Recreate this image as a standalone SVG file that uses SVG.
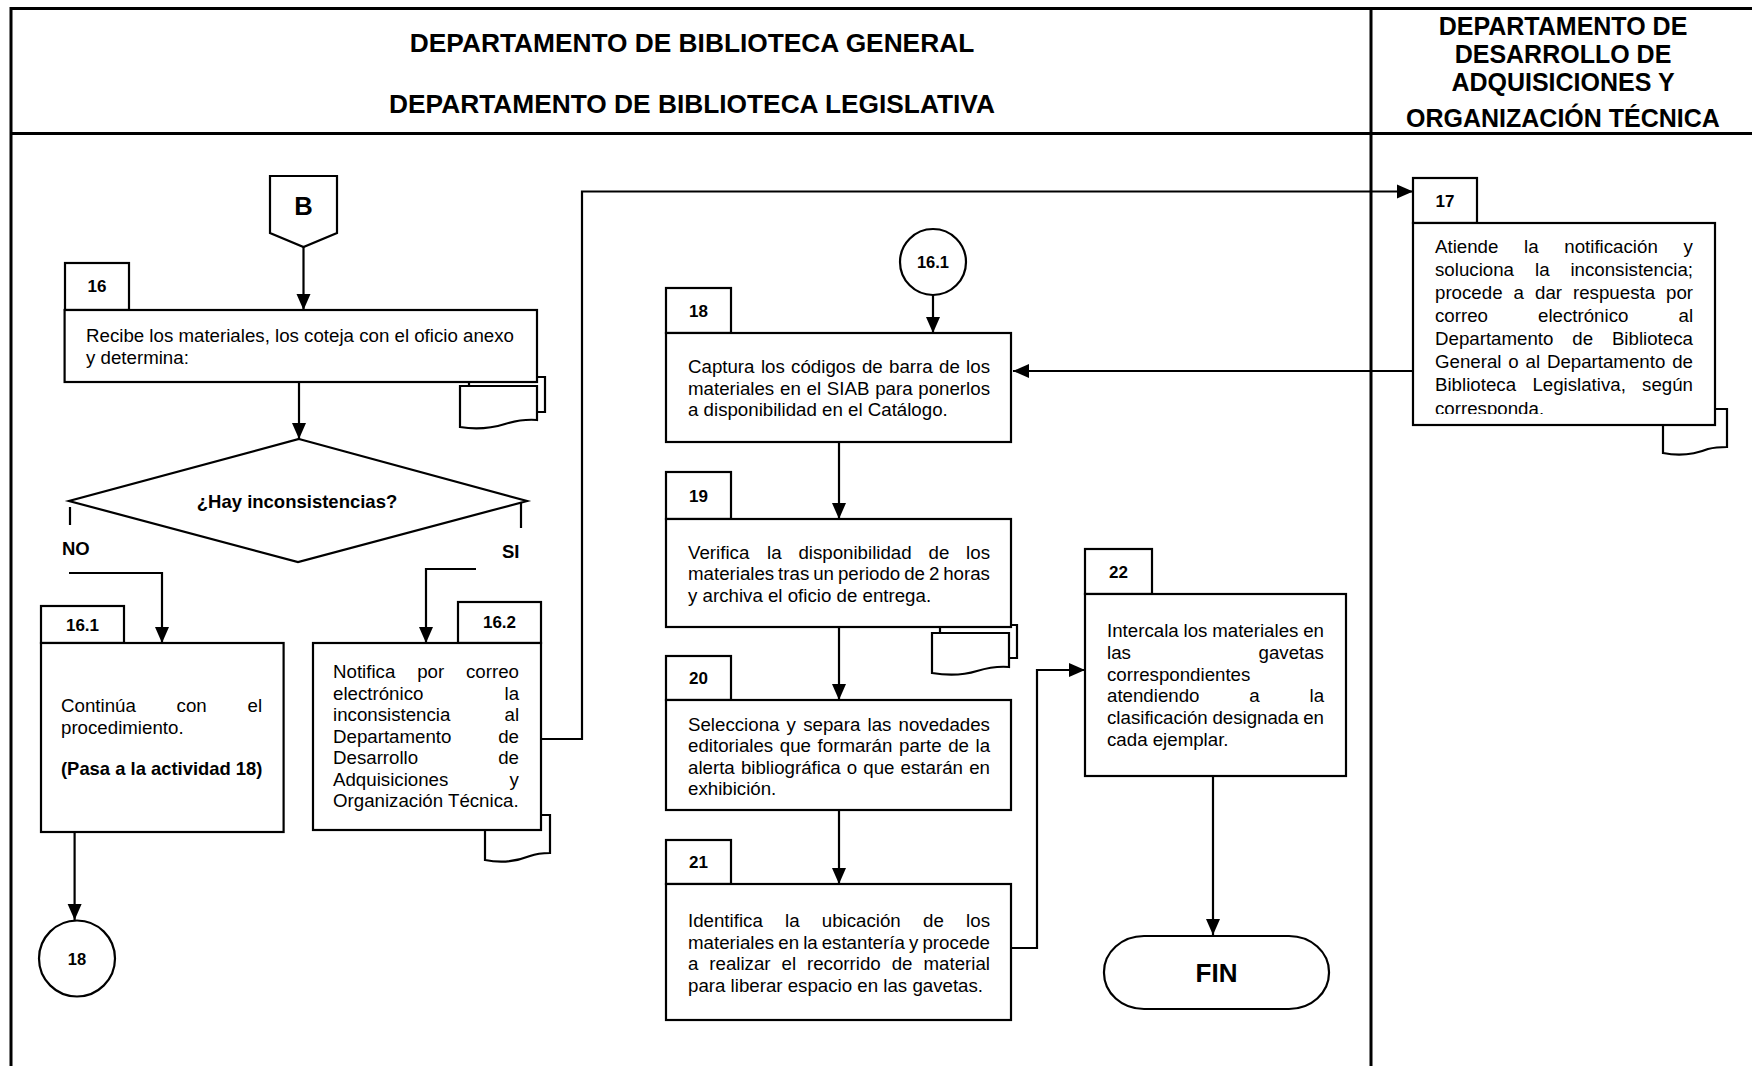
<svg xmlns="http://www.w3.org/2000/svg" width="1752" height="1066" viewBox="0 0 1752 1066">
<style>
.f{fill:#fff;stroke:#000;stroke-width:2.2}
.ln{fill:none;stroke:#000;stroke-width:2.2}
.fr{fill:none;stroke:#000;stroke-width:3}
.t{font-family:"Liberation Sans",Arial,sans-serif;font-size:18.7px;fill:#000}
.b{font-family:"Liberation Sans",Arial,sans-serif;font-weight:bold;fill:#000}
.n{font-size:17px}
.m{text-anchor:middle}
</style>
<defs>
<marker id="ah" markerUnits="userSpaceOnUse" markerWidth="16" markerHeight="16" viewBox="0 0 16 16" refX="16" refY="8" orient="auto"><path d="M0,1 L16,8 L0,15 z" fill="#000"/></marker>
<clipPath id="c17"><rect x="1413" y="223" width="302" height="191"/></clipPath>
</defs>
<rect width="1752" height="1066" fill="#fff"/>
<g id="frame">
<path class="fr" d="M11,8.5 H1752 M11,7 V1066 M11,133.5 H1752 M1371,7 V1066"/>
<text class="b m" x="692" y="52" font-size="26.3">DEPARTAMENTO DE BIBLIOTECA GENERAL</text>
<text class="b m" x="692" y="113" font-size="26.3">DEPARTAMENTO DE BIBLIOTECA LEGISLATIVA</text>
<text class="b m" x="1563" y="35" font-size="25">DEPARTAMENTO DE</text>
<text class="b m" x="1563" y="63" font-size="25">DESARROLLO DE</text>
<text class="b m" x="1563" y="91" font-size="25">ADQUISICIONES Y</text>
<text class="b m" x="1563" y="126.5" font-size="25">ORGANIZACIÓN TÉCNICA</text>
</g>
<g id="connectors">
<path class="ln" d="M303.5,247 V310" marker-end="url(#ah)"/>
<path class="ln" d="M299,382 V439" marker-end="url(#ah)"/>
<path class="ln" d="M70,507 V525"/>
<path class="ln" d="M69,573 H162 V643" marker-end="url(#ah)"/>
<path class="ln" d="M521,503 V528"/>
<path class="ln" d="M476,569 H426 V643" marker-end="url(#ah)"/>
<path class="ln" d="M74.6,832 V920" marker-end="url(#ah)"/>
<path class="ln" d="M541,739 H582 V191.5 H1413" marker-end="url(#ah)"/>
<path class="ln" d="M1413,371 H1013" marker-end="url(#ah)"/>
<path class="ln" d="M933,295 V333" marker-end="url(#ah)"/>
<path class="ln" d="M839,442 V519" marker-end="url(#ah)"/>
<path class="ln" d="M839,627 V700" marker-end="url(#ah)"/>
<path class="ln" d="M839,810 V884" marker-end="url(#ah)"/>
<path class="ln" d="M1011,948 H1037 V670 H1085" marker-end="url(#ah)"/>
<path class="ln" d="M1213,776 V935" marker-end="url(#ah)"/>
<text class="b" x="62" y="555" font-size="18.5">NO</text>
<text class="b" x="502" y="558" font-size="18.5">SI</text>
</g>
<g id="nB">
<path class="f" d="M270,176 H337 V233 L303.5,247 L270,233 Z"/>
<text class="b m" x="303.5" y="215" font-size="25.6">B</text>
</g>
<g id="n16">
<path class="f" d="M469,386 V377 H545 V412 H537"/>
<path class="f" d="M460,386 H537 V420 C525,419 515,421 505,424 C492,428 478,430 460,427 Z"/>
<rect class="f" x="65" y="263" width="64" height="47"/>
<text class="b n m" x="97" y="292">16</text>
<rect class="f" x="64.6" y="310" width="472.4" height="72"/>
<text class="t" x="86" y="342">Recibe los materiales, los coteja con el oficio anexo</text>
<text class="t" x="86" y="363.5">y determina:</text>
</g>
<g id="nDecision">
<path class="f" d="M299,439 L527,501 L298,562 L69,501 Z"/>
<text class="b m" x="297" y="508" font-size="18.5">¿Hay inconsistencias?</text>
</g>
<g id="n16_1">
<rect class="f" x="41" y="606" width="83" height="37"/>
<text class="b n m" x="82.5" y="630.5">16.1</text>
<rect class="f" x="41" y="643" width="242.6" height="189"/>
<text class="t" y="712"><tspan x="61">Continúa</tspan><tspan x="176.6">con</tspan><tspan x="247.5">el</tspan></text>
<text class="t" x="61" y="733.5">procedimiento.</text>
<text class="b" x="61" y="775" font-size="18.4">(Pasa a la actividad 18)</text>
</g>
<g id="c18">
<circle class="f" cx="77" cy="958.5" r="38"/>
<text class="b m" x="77" y="964.5" font-size="16.5">18</text>
</g>
<g id="n16_2">
<path class="f" d="M485,830 V860 C505,864 520,860 530,856 C538,853 544,853 550,853 V815 H535"/>
<rect class="f" x="458" y="602" width="83" height="41"/>
<text class="b n m" x="499.5" y="628">16.2</text>
<rect class="f" x="313" y="643" width="228" height="187"/>
<text class="t" y="678"><tspan x="333">Notifica</tspan><tspan x="417.2">por</tspan><tspan x="466">correo</tspan></text>
<text class="t" y="699.5"><tspan x="333">electrónico</tspan><tspan x="504.5">la</tspan></text>
<text class="t" y="721"><tspan x="333">inconsistencia</tspan><tspan x="504.5">al</tspan></text>
<text class="t" y="742.5"><tspan x="333">Departamento</tspan><tspan x="498.2">de</tspan></text>
<text class="t" y="764"><tspan x="333">Desarrollo</tspan><tspan x="498.2">de</tspan></text>
<text class="t" y="785.5"><tspan x="333">Adquisiciones</tspan><tspan x="509.6">y</tspan></text>
<text class="t" x="333" y="807">Organización Técnica.</text>
</g>
<g id="n17">
<path class="f" d="M1663,425 V453 C1683,457 1698,453 1708,449 C1716,447 1722,447 1727,447 V409 H1710"/>
<rect class="f" x="1413" y="178" width="64" height="45"/>
<text class="b n m" x="1445" y="206.5">17</text>
<rect class="f" x="1413" y="223" width="302" height="202"/>
<g clip-path="url(#c17)">
<text class="t" y="253"><tspan x="1435">Atiende</tspan><tspan x="1524.1">la</tspan><tspan x="1564.3">notificación</tspan><tspan x="1683.6">y</tspan></text>
<text class="t" y="276"><tspan x="1435">soluciona</tspan><tspan x="1535">la</tspan><tspan x="1570.4">inconsistencia;</tspan></text>
<text class="t" y="299"><tspan x="1435">procede</tspan><tspan x="1513.6">a</tspan><tspan x="1535">dar</tspan><tspan x="1573">respuesta</tspan><tspan x="1666">por</tspan></text>
<text class="t" y="322"><tspan x="1435">correo</tspan><tspan x="1538">electrónico</tspan><tspan x="1678.5">al</tspan></text>
<text class="t" y="345"><tspan x="1435">Departamento</tspan><tspan x="1572.3">de</tspan><tspan x="1611.9">Biblioteca</tspan></text>
<text class="t" y="368"><tspan x="1435">General</tspan><tspan x="1508.3">o</tspan><tspan x="1525.5">al</tspan><tspan x="1546.9">Departamento</tspan><tspan x="1672.2">de</tspan></text>
<text class="t" y="391"><tspan x="1435">Biblioteca</tspan><tspan x="1532.4">Legislativa,</tspan><tspan x="1642.1">según</tspan></text>
<text class="t" x="1435" y="415">corresponda.</text>
</g>
</g>
<g id="c16_1">
<circle class="f" cx="933" cy="262" r="33"/>
<text class="b m" x="933" y="268" font-size="16.5">16.1</text>
</g>
<g id="n18">
<rect class="f" x="666" y="288" width="65" height="45"/>
<text class="b n m" x="698.5" y="316.5">18</text>
<rect class="f" x="666" y="333" width="345" height="109"/>
<text class="t" y="373"><tspan x="688">Captura</tspan><tspan x="760.9">los</tspan><tspan x="791.1">códigos</tspan><tspan x="861.9">de</tspan><tspan x="889">barra</tspan><tspan x="939">de</tspan><tspan x="966.1">los</tspan></text>
<text class="t" y="394.5"><tspan x="688">materiales</tspan><tspan x="780">en</tspan><tspan x="806.5">el</tspan><tspan x="826.8">SIAB</tspan><tspan x="875.2">para</tspan><tspan x="918.3">ponerlos</tspan></text>
<text class="t" x="688" y="416">a disponibilidad en el Catálogo.</text>
</g>
<g id="n19">
<path class="f" d="M940,633 V625 H1017 V658 H1009"/>
<path class="f" d="M932,633 H1009 V667 C997,666 987,668 977,671 C964,675 950,676 932,673 Z"/>
<rect class="f" x="666" y="472" width="65" height="47"/>
<text class="b n m" x="698.5" y="501.5">19</text>
<rect class="f" x="666" y="519" width="345" height="108"/>
<text class="t" y="559"><tspan x="688">Verifica</tspan><tspan x="767.1">la</tspan><tspan x="798.4">disponibilidad</tspan><tspan x="928.5">de</tspan><tspan x="966.1">los</tspan></text>
<text class="t" y="580"><tspan x="688">materiales</tspan><tspan x="778.1">tras</tspan><tspan x="813.2">un</tspan><tspan x="837.9">periodo</tspan><tspan x="904.2">de</tspan><tspan x="928.9">2</tspan><tspan x="943.2">horas</tspan></text>
<text class="t" x="688" y="601.5">y archiva el oficio de entrega.</text>
</g>
<g id="n20">
<rect class="f" x="666" y="656" width="65" height="44"/>
<text class="b n m" x="698.5" y="684">20</text>
<rect class="f" x="666" y="700" width="345" height="110"/>
<text class="t" y="731"><tspan x="688">Selecciona</tspan><tspan x="786.6">y</tspan><tspan x="803.2">separa</tspan><tspan x="867.5">las</tspan><tspan x="898.5">novedades</tspan></text>
<text class="t" y="752"><tspan x="688">editoriales</tspan><tspan x="779.8">que</tspan><tspan x="817.6">formarán</tspan><tspan x="899">parte</tspan><tspan x="948.2">de</tspan><tspan x="975.5">la</tspan></text>
<text class="t" y="773.5"><tspan x="688">alerta</tspan><tspan x="740.9">bibliográfica</tspan><tspan x="846.8">o</tspan><tspan x="863.3">que</tspan><tspan x="900.6">estarán</tspan><tspan x="969.2">en</tspan></text>
<text class="t" x="688" y="795">exhibición.</text>
</g>
<g id="n21">
<rect class="f" x="666" y="840" width="65" height="44"/>
<text class="b n m" x="698.5" y="868">21</text>
<rect class="f" x="666" y="884" width="345" height="136"/>
<text class="t" y="927"><tspan x="688">Identifica</tspan><tspan x="785">la</tspan><tspan x="821.8">ubicación</tspan><tspan x="923">de</tspan><tspan x="966.1">los</tspan></text>
<text class="t" y="948.5"><tspan x="688">materiales</tspan><tspan x="778.3">en</tspan><tspan x="803.2">la</tspan><tspan x="821.7">estantería</tspan><tspan x="909">y</tspan><tspan x="922.4">procede</tspan></text>
<text class="t" y="970"><tspan x="688">a</tspan><tspan x="709.3">realizar</tspan><tspan x="781.6">el</tspan><tspan x="807">recorrido</tspan><tspan x="891.7">de</tspan><tspan x="923.5">material</tspan></text>
<text class="t" x="688" y="991.5">para liberar espacio en las gavetas.</text>
</g>
<g id="n22">
<rect class="f" x="1085" y="549" width="67" height="45"/>
<text class="b n m" x="1118.5" y="577.5">22</text>
<rect class="f" x="1085" y="594" width="261" height="182"/>
<text class="t" y="637"><tspan x="1107">Intercala</tspan><tspan x="1183.5">los</tspan><tspan x="1212.2">materiales</tspan><tspan x="1303.2">en</tspan></text>
<text class="t" y="659"><tspan x="1107">las</tspan><tspan x="1258.5">gavetas</tspan></text>
<text class="t" x="1107" y="680.5">correspondientes</text>
<text class="t" y="702"><tspan x="1107">atendiendo</tspan><tspan x="1249.3">a</tspan><tspan x="1309.5">la</tspan></text>
<text class="t" y="724"><tspan x="1107">clasificación</tspan><tspan x="1212.4">designada</tspan><tspan x="1303.2">en</tspan></text>
<text class="t" x="1107" y="745.5">cada ejemplar.</text>
</g>
<g id="nFIN">
<rect class="f" x="1104" y="936" width="225" height="73" rx="40" ry="36"/>
<text class="b m" x="1216.5" y="982" font-size="26">FIN</text>
</g>
</svg>
